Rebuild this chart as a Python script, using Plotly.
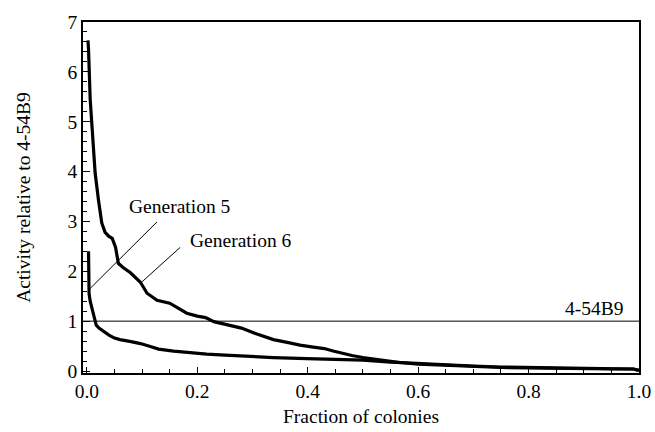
import plotly.graph_objects as go

# Generation 6 (upper thick curve)
gen6_x = [0.002, 0.003, 0.006, 0.010, 0.015, 0.021, 0.027, 0.033, 0.040, 0.046, 0.052, 0.057,
          0.065, 0.079, 0.090, 0.097, 0.109, 0.127, 0.150, 0.165, 0.181, 0.200, 0.215, 0.230,
          0.255, 0.280, 0.308, 0.338, 0.365, 0.386, 0.410, 0.430, 0.446, 0.460, 0.480, 0.500,
          0.530, 0.567, 0.600, 0.640, 0.680, 0.712, 0.750, 0.800, 0.850, 0.900, 0.950, 0.990, 1.000]
gen6_y = [6.63, 6.45, 5.45, 4.70, 3.97, 3.43, 2.97, 2.78, 2.70, 2.66, 2.48, 2.16,
          2.08, 1.97, 1.85, 1.78, 1.56, 1.42, 1.36, 1.26, 1.16, 1.10, 1.07, 0.99,
          0.92, 0.86, 0.74, 0.63, 0.57, 0.52, 0.48, 0.45, 0.40, 0.36, 0.31, 0.27,
          0.22, 0.17, 0.14, 0.12, 0.10, 0.08, 0.07, 0.06, 0.05, 0.05, 0.04, 0.04, 0.01]

# Generation 5 (lower thick curve)
gen5_x = [0.003, 0.003, 0.004, 0.006, 0.008, 0.011, 0.014, 0.017, 0.022, 0.030, 0.040, 0.050,
          0.060, 0.080, 0.097, 0.115, 0.130, 0.157, 0.190, 0.217, 0.250, 0.278, 0.338, 0.398,
          0.458, 0.500, 0.550, 0.600, 0.650, 0.700, 0.750, 0.800, 0.850, 0.900, 0.950, 0.990, 1.000]
gen5_y = [2.40, 1.90, 1.55, 1.40, 1.28, 1.18, 1.05, 0.92, 0.86, 0.79, 0.72, 0.66,
          0.63, 0.59, 0.55, 0.49, 0.44, 0.40, 0.36, 0.34, 0.32, 0.30, 0.27, 0.25,
          0.23, 0.22, 0.18, 0.15, 0.12, 0.10, 0.08, 0.07, 0.06, 0.05, 0.05, 0.04, 0.01]

reference_level = 1.0
reference_name = "4-54B9"
x_tick_vals = [0.0, 0.2, 0.4, 0.6, 0.8, 1.0]
x_tick_text = ["0.0", "0.2", "0.4", "0.6", "0.8", "1.0"]
y_tick_vals = [0, 1, 2, 3, 4, 5, 6, 7]
y_tick_text = ["0", "1", "2", "3", "4", "5", "6", "7"]

FONT = "Liberation Serif"
FS = 19.5

fig = go.Figure()
fig.add_trace(go.Scatter(x=gen6_x, y=gen6_y, mode="lines",
                         line=dict(color="black", width=3.2), showlegend=False))
fig.add_trace(go.Scatter(x=gen5_x, y=gen5_y, mode="lines",
                         line=dict(color="black", width=3.2), showlegend=False))

# reference line
fig.add_shape(type="line", xref="paper", x0=0, x1=1, yref="y", y0=reference_level, y1=reference_level,
              line=dict(color="black", width=1))

# pointer lines
fig.add_shape(type="line", x0=0.127, y0=2.99, x1=0.0063, y1=1.66, line=dict(color="black", width=1))
fig.add_shape(type="line", x0=0.169, y0=2.48, x1=0.100, y1=1.79, line=dict(color="black", width=1))

fig.add_annotation(x=0.168, y=3.30, text="Generation 5", showarrow=False,
                   font=dict(family=FONT, size=FS, color="black"))
fig.add_annotation(x=0.280, y=2.62, text="Generation 6", showarrow=False,
                   font=dict(family=FONT, size=FS, color="black"))
fig.add_annotation(x=0.977, y=reference_level, text=reference_name, showarrow=False,
                   xanchor="right", yanchor="bottom",
                   font=dict(family=FONT, size=FS, color="black"))

fig.update_layout(
    width=655, height=432,
    margin=dict(l=83, r=16, t=22, b=59, autoexpand=False),
    paper_bgcolor="white", plot_bgcolor="white",
    font=dict(family=FONT, size=FS, color="black"),
    showlegend=False,
)
fig.update_xaxes(range=[-0.007, 1.0], tickmode="array", tickvals=x_tick_vals, ticktext=x_tick_text,
                 ticks="inside", ticklen=6, tickwidth=1.2, tickcolor="black",
                 tickfont=dict(family=FONT, size=FS, color="black"),
                 minor=dict(ticks="inside", ticklen=4, dtick=0.05, tick0=0, tickcolor="black", tickwidth=1),
                 showline=True, linecolor="black", linewidth=1.5, mirror=True,
                 showgrid=False, zeroline=False,
                 title=dict(text="Fraction of colonies", standoff=8,
                            font=dict(family=FONT, size=FS, color="black")))
fig.update_yaxes(range=[-0.04, 7.0], tickmode="array", tickvals=y_tick_vals, ticktext=y_tick_text,
                 ticks="inside", ticklen=7, tickwidth=1.2, tickcolor="black",
                 tickfont=dict(family=FONT, size=FS, color="black"),
                 minor=dict(ticks="inside", ticklen=4, dtick=0.2, tick0=0, tickcolor="black", tickwidth=1),
                 showline=True, linecolor="black", linewidth=1.5, mirror=True,
                 showgrid=False, zeroline=False,
                 title=dict(text="Activity relative to 4-54B9", standoff=32,
                            font=dict(family=FONT, size=FS, color="black")))

fig.write_html("out.html")
